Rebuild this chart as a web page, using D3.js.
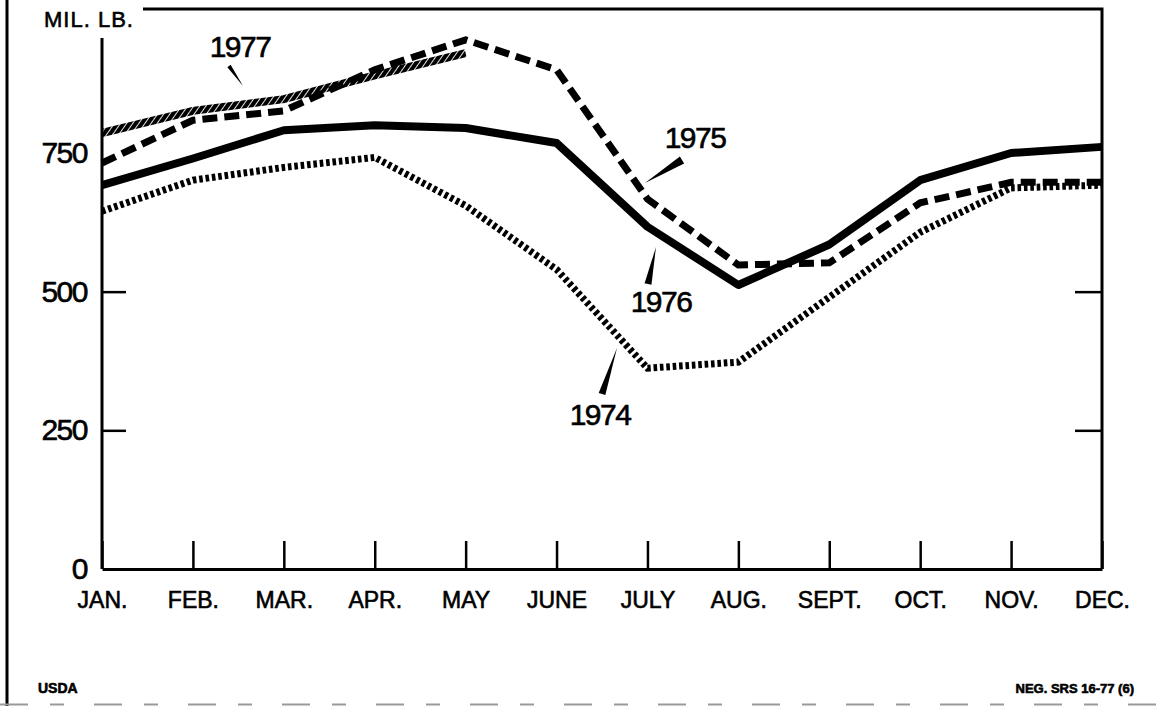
<!DOCTYPE html>
<html>
<head>
<meta charset="utf-8">
<script src="https://cdn.jsdelivr.net/npm/d3@7"></script>
<style>
  body { margin: 0; background: #fff; }
  svg text { font-family: "Liberation Sans", Arial, Helvetica, sans-serif; fill: #000; stroke: #000; stroke-width: 0.6px; }
</style>
</head>
<body>
<svg width="1162" height="706"></svg>
<script>
const svg = d3.select("svg");

// months on the x axis
const months = ["JAN.", "FEB.", "MAR.", "APR.", "MAY", "JUNE", "JULY", "AUG.", "SEPT.", "OCT.", "NOV.", "DEC."];
const yLabels = [0, 250, 500, 750];
const yInnerTicks = [250, 500];

// mil. lb.
const v1974 = [645, 701, 724, 742, 655, 540, 362, 373, 490, 607, 687, 692];
const v1975 = [732, 809, 826, 900, 954, 900, 667, 548, 552, 660, 697, 697];
const v1976 = [692, 740, 791, 800, 795, 768, 617, 512, 585, 701, 750, 761];
const v1977 = [786, 826, 847, 890, 930];

const left = 102, right = 1102, bottom = 569;

const x = d3.scalePoint().domain(months).range([left, right]);
const y = d3.scaleLinear().domain([0, 1000]).range([bottom, 14.3]);

// hatch for the 1977 line
const defs = svg.append("defs");
defs.append("pattern")
  .attr("id", "hatch")
  .attr("patternUnits", "userSpaceOnUse")
  .attr("width", 5)
  .attr("height", 5)
  .attr("patternTransform", "rotate(35)")
  .append("rect")
  .attr("width", 4.1)
  .attr("height", 5)
  .attr("fill", "#000");

// outer page edges
svg.append("line")
  .attr("x1", 7).attr("x2", 7).attr("y1", 0).attr("y2", 706)
  .attr("stroke", "#000").attr("stroke-width", 3);
svg.append("line")
  .attr("x1", 0).attr("x2", 1162).attr("y1", 704.5).attr("y2", 704.5)
  .attr("stroke", "#999").attr("stroke-width", 2)
  .attr("stroke-dasharray", "28,22,14,30");

// frame: top + right, left axis line
svg.append("path")
  .attr("d", `M143,9 H${right} V${bottom}`)
  .attr("fill", "none").attr("stroke", "#000").attr("stroke-width", 3);
svg.append("path")
  .attr("d", `M${left},38 V${bottom}`)
  .attr("fill", "none").attr("stroke", "#000").attr("stroke-width", 3);

// bottom axis with inward ticks
const xAxis = svg.append("g")
  .attr("transform", `translate(0,${bottom})`)
  .call(d3.axisBottom(x).tickSizeInner(-28).tickSizeOuter(0).tickPadding(23));
xAxis.select(".domain").attr("stroke-width", 3);
xAxis.selectAll(".tick line").attr("stroke-width", 2.5);
xAxis.selectAll(".tick text")
  .attr("font-size", 23)
  .attr("fill", "#000")
  .style("font-family", "'Liberation Sans', Arial, sans-serif");

// y labels
const yAxis = svg.append("g")
  .attr("transform", `translate(${left},0)`)
  .call(d3.axisLeft(y).tickValues(yLabels).tickSize(0).tickPadding(15));
yAxis.select(".domain").remove();
yAxis.selectAll(".tick text")
  .attr("font-size", 30)
  .attr("letter-spacing", -1.5)
  .attr("fill", "#000")
  .style("font-family", "'Liberation Sans', Arial, sans-serif");

// short inward ticks on both sides
const lt = svg.append("g")
  .attr("transform", `translate(${left},0)`)
  .call(d3.axisLeft(y).tickValues(yInnerTicks).tickSize(-24).tickFormat(""));
lt.select(".domain").remove();
lt.selectAll(".tick line").attr("stroke-width", 2.5);
const rt = svg.append("g")
  .attr("transform", `translate(${right},0)`)
  .call(d3.axisRight(y).tickValues(yInnerTicks).tickSize(-27).tickFormat(""));
rt.select(".domain").remove();
rt.selectAll(".tick line").attr("stroke-width", 2.5);

svg.append("text")
  .attr("x", 44).attr("y", 27)
  .attr("font-size", 22)
  .attr("letter-spacing", 1)
  .text("MIL. LB.");

// series
const line = d3.line()
  .x((d, i) => x(months[i]))
  .y(d => y(d));

svg.append("path")
  .datum(v1974)
  .attr("d", line)
  .attr("fill", "none")
  .attr("stroke", "#000")
  .attr("stroke-width", 7)
  .attr("stroke-dasharray", "3.6,2.8");

svg.append("path")
  .datum(v1976)
  .attr("d", line)
  .attr("fill", "none")
  .attr("stroke", "#000")
  .attr("stroke-width", 8)
  .attr("stroke-linejoin", "round");

svg.append("path")
  .datum(v1975)
  .attr("d", line)
  .attr("fill", "none")
  .attr("stroke", "#000")
  .attr("stroke-width", 7)
  .attr("stroke-dasharray", "15,7");

svg.append("path")
  .datum(v1977)
  .attr("d", line)
  .attr("fill", "none")
  .attr("stroke", "url(#hatch)")
  .attr("stroke-width", 8);

// year labels with wedge pointers
const notes = [
  { year: "1977", tx: 240, ty: 57, tip: [243, 86], base: [229, 66], w: 4 },
  { year: "1975", tx: 695, ty: 148, tip: [645, 183], base: [682, 160], w: 8 },
  { year: "1976", tx: 661, ty: 312, tip: [656, 247], base: [648, 284], w: 7 },
  { year: "1974", tx: 600, ty: 425, tip: [617, 348], base: [602, 394], w: 7 }
];

function wedge(n) {
  const dx = n.base[0] - n.tip[0], dy = n.base[1] - n.tip[1];
  const len = Math.hypot(dx, dy);
  const px = -dy / len * n.w / 2, py = dx / len * n.w / 2;
  return `M${n.tip[0]},${n.tip[1]} L${n.base[0] + px},${n.base[1] + py} L${n.base[0] - px},${n.base[1] - py} Z`;
}

svg.selectAll(".pointer")
  .data(notes)
  .enter()
  .append("path")
  .attr("class", "pointer")
  .attr("d", wedge)
  .attr("fill", "#000");

svg.selectAll(".year")
  .data(notes)
  .enter()
  .append("text")
  .attr("class", "year")
  .attr("x", d => d.tx)
  .attr("y", d => d.ty)
  .attr("text-anchor", "middle")
  .attr("font-size", 30)
  .attr("letter-spacing", -1.5)
  .text(d => d.year);

// footer
svg.append("text")
  .attr("x", 38).attr("y", 693)
  .attr("font-size", 14)
  .attr("font-weight", "bold")
  .text("USDA");
svg.append("text")
  .attr("x", 1134).attr("y", 693)
  .attr("text-anchor", "end")
  .attr("font-size", 13)
  .attr("font-weight", "bold")
  .text("NEG. SRS 16-77 (6)");
</script>
</body>
</html>
